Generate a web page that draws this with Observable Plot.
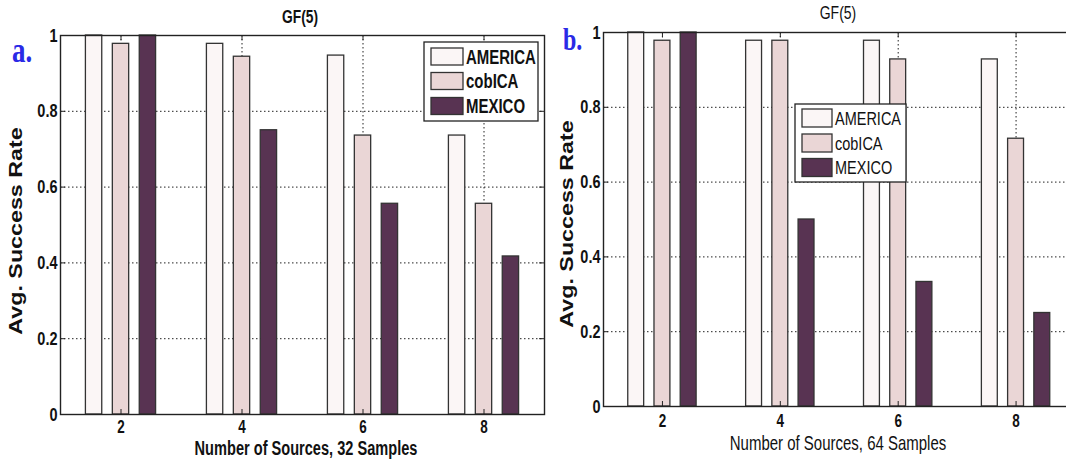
<!DOCTYPE html>
<html><head><meta charset="utf-8">
<script src="https://cdn.jsdelivr.net/npm/d3@7"></script>
<script src="https://cdn.jsdelivr.net/npm/@observablehq/plot@0.6"></script>
<style>
html,body{margin:0;padding:0;background:#fff;overflow:hidden;width:1066px;height:462px}
#wrap{position:relative;width:1066px;height:462px;overflow:hidden}
.panel{position:absolute;top:0}
</style></head><body><div id="wrap"></div>
<script>
// ---- data ----
const sources = [2, 4, 6, 8];
const methods = ["AMERICA", "cobICA", "MEXICO"];
const colors = ["#fbf6f6", "#ead6d6", "#583352"];
const yTicks = [0, 0.2, 0.4, 0.6, 0.8, 1];
const america32 = [1, 0.978, 0.947, 0.736];
const cobica32  = [0.978, 0.944, 0.736, 0.556];
const mexico32  = [1, 0.75, 0.556, 0.417];
const america64 = [1, 0.978, 0.978, 0.928];
const cobica64  = [0.978, 0.978, 0.928, 0.716];
const mexico64  = [1, 0.5, 0.333, 0.25];
const titleText = "GF(5)";
const yLabel = "Avg. Success Rate";
const xLabel32 = "Number of Sources, 32 Samples";
const xLabel64 = "Number of Sources, 64 Samples";

const S = 1.33; // vertical stretch of text, as in the reference
const NS = "http://www.w3.org/2000/svg";
const SANS = "'Liberation Sans', Arial, sans-serif";
const SERIF = "'Liberation Serif', 'Times New Roman', serif";

function makeRows(a, c, m) {
  return sources.flatMap((s, i) => [
    {x: s, k: 0, method: methods[0], value: a[i]},
    {x: s, k: 1, method: methods[1], value: c[i]},
    {x: s, k: 2, method: methods[2], value: m[i]}
  ]);
}

function stretchTexts(svg) {
  svg.querySelectorAll("text").forEach(t => {
    const tr = t.getAttribute("transform") || "";
    if (/^translate\([^)]*\)/.test(tr)) {
      t.setAttribute("transform", tr.replace(/^(translate\([^)]*\))/, `$1 scale(1,${S})`));
    }
  });
}

function addText(svg, o) {
  const t = document.createElementNS(NS, "text");
  t.setAttribute("transform", `translate(${o.x},${o.y}) scale(1,${S})${o.rotate ? ` rotate(${o.rotate})` : ""}`);
  t.setAttribute("font-family", o.family || SANS);
  t.setAttribute("font-size", o.size);
  t.setAttribute("font-weight", o.weight || "normal");
  t.setAttribute("text-anchor", o.anchor || "start");
  t.setAttribute("fill", o.fill || "#111");
  t.textContent = o.text;
  svg.appendChild(t);
}
function addRect(svg, x, y, w, h, fill, stroke, sw) {
  const r = document.createElementNS(NS, "rect");
  r.setAttribute("x", x); r.setAttribute("y", y);
  r.setAttribute("width", w); r.setAttribute("height", h);
  r.setAttribute("fill", fill); r.setAttribute("stroke", stroke);
  r.setAttribute("stroke-width", sw);
  svg.appendChild(r);
}

function panel(o) {
  const rows = makeRows(o.a, o.c, o.m);
  const offs = [-0.445, 0, 0.445], bw = 0.27;
  const frameH = o.H - o.mT - o.mB;
  const frameW = o.W - o.mL - o.mR;
  const tickY = 5 / frameH, tickX = 5 * 8 / frameW;
  const dash = {stroke: "#222", strokeWidth: 1, strokeDasharray: "1.5,2.5"};
  const svg = Plot.plot({
    width: o.W, height: o.H,
    marginLeft: o.mL, marginRight: o.mR, marginTop: o.mT, marginBottom: o.mB,
    style: {background: "transparent", overflow: "visible", maxWidth: "none"},
    x: {domain: [1, 9], axis: null},
    y: {domain: [0, 1], axis: null},
    color: {domain: methods, range: colors},
    marks: [
      Plot.ruleY(yTicks.slice(1, -1), {y: d => d, ...dash}),
      Plot.ruleX(sources, {x: d => d, ...dash}),
      Plot.rect(rows, {
        x1: d => d.x + offs[d.k] - bw / 2, x2: d => d.x + offs[d.k] + bw / 2,
        y1: 0, y2: "value", fill: "method", stroke: "#333", strokeWidth: 1.3
      }),
      Plot.ruleX(sources, {x: d => d, y1: 0, y2: tickY, stroke: "#222", strokeWidth: 1}),
      Plot.ruleX(sources, {x: d => d, y1: 1, y2: 1 - tickY, stroke: "#222", strokeWidth: 1}),
      Plot.ruleY(yTicks, {y: d => d, x1: 1, x2: 1 + tickX, stroke: "#222", strokeWidth: 1}),
      Plot.ruleY(yTicks, {y: d => d, x1: 9, x2: 9 - tickX, stroke: "#222", strokeWidth: 1}),
      Plot.frame({stroke: "#222", strokeWidth: 1.4}),
      Plot.text(yTicks, {y: d => d, text: d => String(d), frameAnchor: "left", textAnchor: "end",
        lineAnchor: "middle", dx: -3, fontWeight: "bold", fontSize: 14.5, fontFamily: SANS, fill: "#111"}),
      Plot.text(sources, {x: d => d, text: d => String(d), frameAnchor: "bottom", lineAnchor: "top",
        dy: o.xtickDy, fontWeight: "bold", fontSize: 13.5, fontFamily: SANS, fill: "#111"})
    ]
  });
  stretchTexts(svg);
  // titles & labels
  addText(svg, {x: o.title.x, y: o.title.y, text: titleText, size: o.title.size, weight: o.title.weight, anchor: "middle"});
  addText(svg, {x: o.letter.x, y: o.letter.y, text: o.letter.text, size: o.letter.size, weight: "bold",
    family: SERIF, fill: "#2a2ae6"});
  addText(svg, {x: o.ylab.x, y: o.ylab.y, text: yLabel, size: 17.5, weight: "bold", anchor: "middle", rotate: -90});
  addText(svg, {x: o.xlab.x, y: o.xlab.y, text: o.xlab.text, size: o.xlab.size, weight: o.xlab.weight, anchor: "middle"});
  // legend
  const L = o.legend;
  addRect(svg, L.x, L.y, L.w, L.h, "#fff", "#222", 1.3);
  methods.forEach((m, i) => {
    const cy = L.rows[i];
    addRect(svg, L.sx, cy - L.sh / 2, L.sw, L.sh, colors[i], "#333", 1.3);
    addText(svg, {x: L.tx, y: cy + L.size * 0.716 * S / 2, text: m, size: L.size, weight: L.weight});
  });
  const div = document.createElement("div");
  div.className = "panel";
  div.style.left = o.left + "px";
  div.style.width = o.W + "px";
  div.appendChild(svg);
  document.getElementById("wrap").appendChild(div);
}

// panel a (svg at page x = 0)
panel({
  left: 0, W: 548, H: 462, mL: 60, mR: 4, mT: 35, mB: 48,
  a: america32, c: cobica32, m: mexico32, xtickDy: 6,
  title: {x: 300, y: 22.5, size: 13.8, weight: "bold"},
  letter: {x: 12, y: 62, text: "a.", size: 27},
  ylab: {x: 22, y: 231},
  xlab: {x: 306, y: 455, text: xLabel32, size: 14.6, weight: "bold"},
  legend: {x: 424, y: 42, w: 114, h: 79, sx: 431, sw: 32, sh: 17, rows: [56.5, 81, 106],
    tx: 466, size: 15, weight: "bold"}
});
// panel b (svg at page x = 540); coordinates below are local to that svg
panel({
  left: 540, W: 540, H: 462, mL: 63, mR: 5.5, mT: 32, mB: 56,
  a: america64, c: cobica64, m: mexico64, xtickDy: 8,
  title: {x: 838 - 540, y: 19, size: 14, weight: "normal"},
  letter: {x: 563 - 540, y: 50, text: "b.", size: 24},
  ylab: {x: 573 - 540, y: 224},
  xlab: {x: 838 - 540, y: 450, text: xLabel64, size: 15, weight: "normal"},
  legend: {x: 795 - 540, y: 104, w: 111, h: 78, sx: 802 - 540, sw: 30, sh: 18, rows: [118, 143, 167.5],
    tx: 835 - 540, size: 14.5, weight: "normal"}
});
</script></body></html>
